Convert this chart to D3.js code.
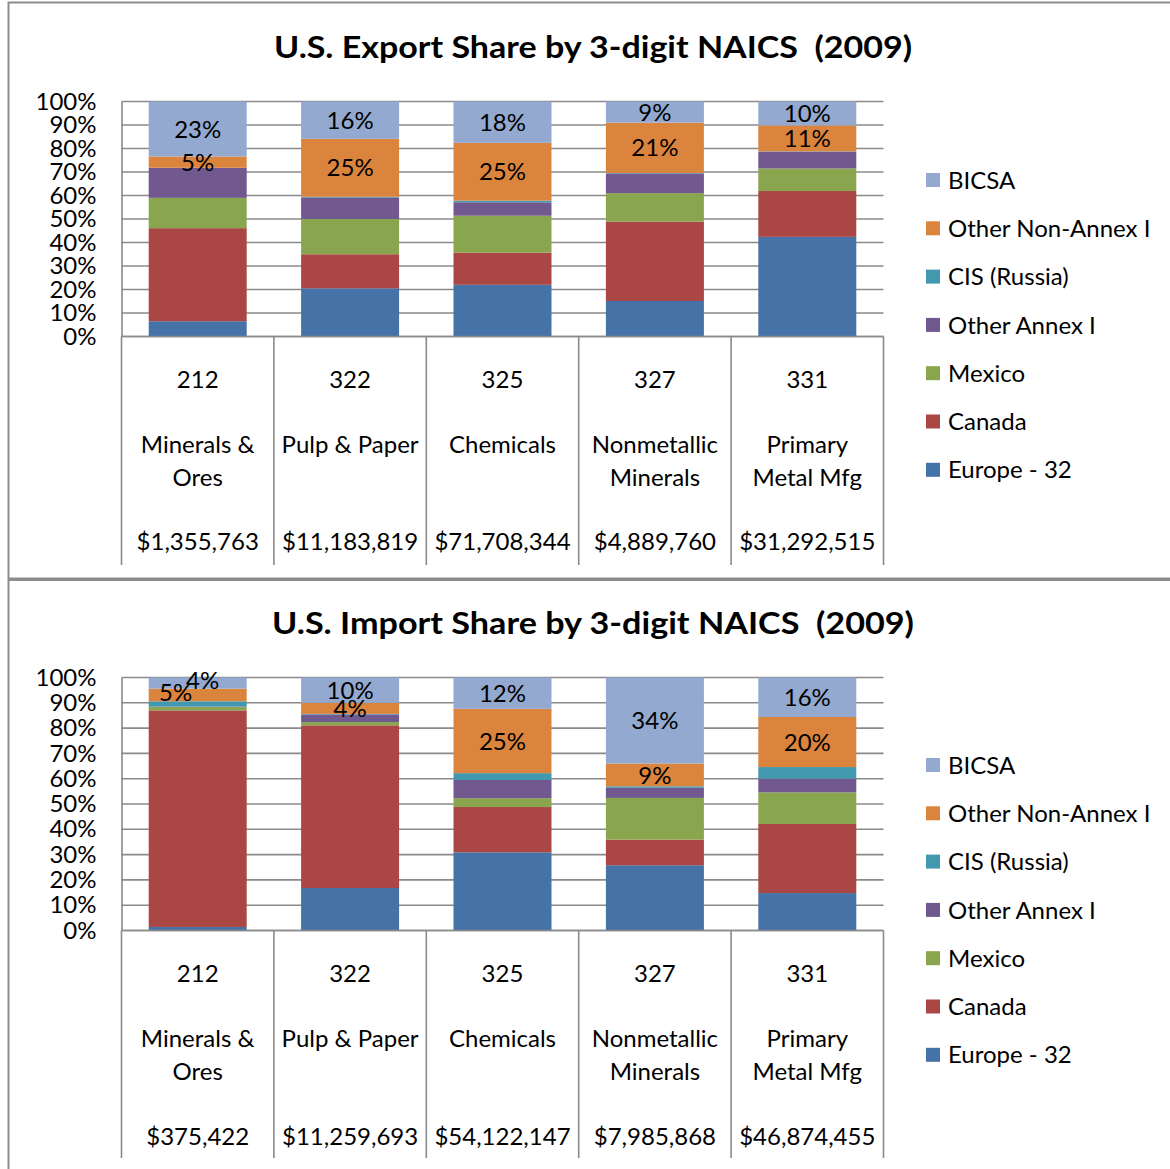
<!DOCTYPE html>
<html>
<head>
<meta charset="utf-8">
<script src="https://cdn.jsdelivr.net/npm/d3@7"></script>
<style>
  html, body { margin: 0; padding: 0; background: #fff; }
  svg { display: block; }
  text { font-family: Lato, "Open Sans", sans-serif; fill: #000; }
</style>
</head>
<body>
<svg id="chart" width="1170" height="1169"></svg>
<script>
// ---------- DATA ----------
const categories = ["212", "322", "325", "327", "331"];
const categoryNames = [["Minerals &", "Ores"], ["Pulp & Paper"], ["Chemicals"], ["Nonmetallic", "Minerals"], ["Primary", "Metal Mfg"]];
const exportTotals = ["$1,355,763", "$11,183,819", "$71,708,344", "$4,889,760", "$31,292,515"];
const importTotals = ["$375,422", "$11,259,693", "$54,122,147", "$7,985,868", "$46,874,455"];

const seriesNames = ["Europe - 32", "Canada", "Mexico", "Other Annex I", "CIS (Russia)", "Other Non-Annex I", "BICSA"];
const seriesColors = ["#4572A7", "#AA4643", "#89A54E", "#71588F", "#4198AF", "#DB843D", "#93A9CF"];
const labeledSeries = ["Other Non-Annex I", "BICSA"];

// export shares (%) per series, in category order
const exportEurope   = [6.5, 20.5, 22.0, 15.1, 42.4];
const exportCanada   = [39.6, 14.5, 13.7, 33.8, 19.5];
const exportMexico   = [12.9, 15.0, 15.7, 12.1, 9.6];
const exportOtherA1  = [12.8, 9.2, 5.7, 8.4, 7.2];
const exportCIS      = [0.0, 0.3, 0.7, 0.2, 0.1];
const exportOtherNA1 = [4.8, 24.6, 24.6, 21.4, 11.0];
const exportBICSA    = [23.4, 15.9, 17.6, 9.0, 10.2];

// import shares (%) per series, in category order
const importEurope   = [1.4, 16.8, 30.9, 25.8, 14.8];
const importCanada   = [85.6, 64.3, 17.9, 10.1, 27.3];
const importMexico   = [1.3, 1.3, 3.5, 16.5, 12.5];
const importOtherA1  = [0.2, 3.0, 7.2, 4.0, 5.4];
const importCIS      = [2.1, 0.2, 2.7, 0.6, 4.6];
const importOtherNA1 = [5.0, 4.4, 25.4, 9.0, 19.8];
const importBICSA    = [4.4, 10.0, 12.4, 34.0, 15.6];

const yTicks = [0, 10, 20, 30, 40, 50, 60, 70, 80, 90, 100];

// ---------- LAYOUT ----------
const panels = [
  { title: "U.S. Export Share by 3-digit NAICS  (2009)", titleWidth: 638,
    values: [exportEurope, exportCanada, exportMexico, exportOtherA1, exportCIS, exportOtherNA1, exportBICSA],
    totals: exportTotals,
    panelY: 2.5, panelH: 576, titleY: 47, plotTop: 101.5, plotBottom: 336.5,
    catY: [379, 444, 541], nameGap: 33, dividerBottom: 565, legendTop: 180,
    labelShift: {} },
  { title: "U.S. Import Share by 3-digit NAICS  (2009)", titleWidth: 642,
    values: [importEurope, importCanada, importMexico, importOtherA1, importCIS, importOtherNA1, importBICSA],
    totals: importTotals,
    panelY: 580, panelH: 600, titleY: 623, plotTop: 677.5, plotBottom: 930.5,
    catY: [973, 1038, 1136], nameGap: 33, dividerBottom: 1158, legendTop: 765,
    labelShift: { "212|Other Non-Annex I": [-22, -3], "212|BICSA": [5, -3] } }
];

const plotLeft = 121.5, plotRight = 883.5;
const gridColor = "#8a8a8a";
const svg = d3.select("#chart");

const x = d3.scaleBand().domain(categories).range([plotLeft, plotRight]).paddingInner(0.357).paddingOuter(0.1785);
const xCat = d3.scaleBand().domain(categories).range([plotLeft, plotRight]).padding(0);

panels.forEach(p => {
  const g = svg.append("g");
  // panel border
  g.append("rect").attr("x", 8.5).attr("y", p.panelY).attr("width", 1200).attr("height", p.panelH)
    .attr("fill", "none").attr("stroke", "#8c8c8c").attr("stroke-width", 2);

  // title
  g.append("text").attr("x", 593).attr("y", p.titleY).attr("dy", "0.36em")
    .attr("text-anchor", "middle").style("white-space", "pre")
    .attr("font-size", 30).attr("font-weight", 700)
    .attr("textLength", p.titleWidth).attr("lengthAdjust", "spacingAndGlyphs")
    .text(p.title);

  const y = d3.scaleLinear().domain([0, 100]).range([p.plotBottom, p.plotTop]);

  // gridlines
  g.append("g").selectAll("line").data(yTicks).join("line")
    .attr("x1", plotLeft).attr("x2", plotRight)
    .attr("y1", d => y(d)).attr("y2", d => y(d))
    .attr("stroke", gridColor).attr("stroke-width", 1.6);

  // y axis labels
  const yAxis = d3.axisLeft(y).tickValues(yTicks).tickFormat(d => d + "%").tickSize(0).tickPadding(25);
  const ya = g.append("g").attr("transform", `translate(${plotLeft},0)`).call(yAxis);
  ya.select(".domain").attr("stroke", gridColor).attr("stroke-width", 1.6);
  ya.selectAll("text").attr("font-size", 24).attr("font-family", "Lato, sans-serif").attr("fill", "#000");

  // stacked data
  const rows = categories.map((c, i) => {
    const r = { cat: c };
    seriesNames.forEach((s, k) => r[s] = p.values[k][i]);
    return r;
  });
  const stack = d3.stack().keys(seriesNames)(rows);

  const bars = g.append("g");
  stack.forEach((layer, k) => {
    bars.append("g").attr("fill", seriesColors[k]).selectAll("rect").data(layer).join("rect")
      .attr("x", d => x(d.data.cat)).attr("width", x.bandwidth())
      .attr("y", d => y(d[1])).attr("height", d => Math.max(0, y(d[0]) - y(d[1])));
  });

  // data labels
  stack.filter(l => labeledSeries.includes(l.key)).forEach(layer => {
    g.append("g").selectAll("text").data(layer).join("text")
      .attr("x", d => x(d.data.cat) + x.bandwidth() / 2 + ((p.labelShift[d.data.cat + "|" + layer.key] || [0, 0])[0]))
      .attr("y", d => (y(d[0]) + y(d[1])) / 2 + ((p.labelShift[d.data.cat + "|" + layer.key] || [0, 0])[1]))
      .attr("dy", "0.36em").attr("text-anchor", "middle").attr("font-size", 24)
      .text(d => Math.round(d[1] - d[0]) + "%");
  });

  // category axis line and dividers
  g.append("line").attr("x1", plotLeft).attr("x2", plotRight)
    .attr("y1", p.plotBottom).attr("y2", p.plotBottom)
    .attr("stroke", gridColor).attr("stroke-width", 1.6);
  const dividerXs = categories.map(c => xCat(c)).concat([plotRight]);
  g.append("g").selectAll("line").data(dividerXs).join("line")
    .attr("x1", d => d).attr("x2", d => d)
    .attr("y1", p.plotBottom).attr("y2", p.dividerBottom)
    .attr("stroke", gridColor).attr("stroke-width", 1.6);

  // category labels (three levels)
  const cats = g.append("g").attr("font-size", 24).attr("text-anchor", "middle");
  categories.forEach((c, i) => {
    const cx = xCat(c) + xCat.bandwidth() / 2;
    cats.append("text").attr("x", cx).attr("y", p.catY[0]).attr("dy", "0.36em").attr("font-size", 24).text(c);
    categoryNames[i].forEach((ln, j) => {
      cats.append("text").attr("x", cx).attr("y", p.catY[1] + j * p.nameGap).attr("dy", "0.36em").attr("font-size", 24).text(ln);
    });
    cats.append("text").attr("x", cx).attr("y", p.catY[2]).attr("dy", "0.36em").attr("font-size", 24).text(p.totals[i]);
  });

  // legend (reverse order)
  const legendOrder = seriesNames.slice().reverse();
  const lg = g.append("g");
  legendOrder.forEach((s, i) => {
    const ly = p.legendTop + i * 48.3;
    lg.append("rect").attr("x", 926).attr("y", ly - 7).attr("width", 14).attr("height", 14)
      .attr("fill", seriesColors[seriesNames.indexOf(s)]);
    lg.append("text").attr("x", 948).attr("y", ly).attr("dy", "0.36em").attr("font-size", 24).text(s);
  });
});
</script>
</body>
</html>
